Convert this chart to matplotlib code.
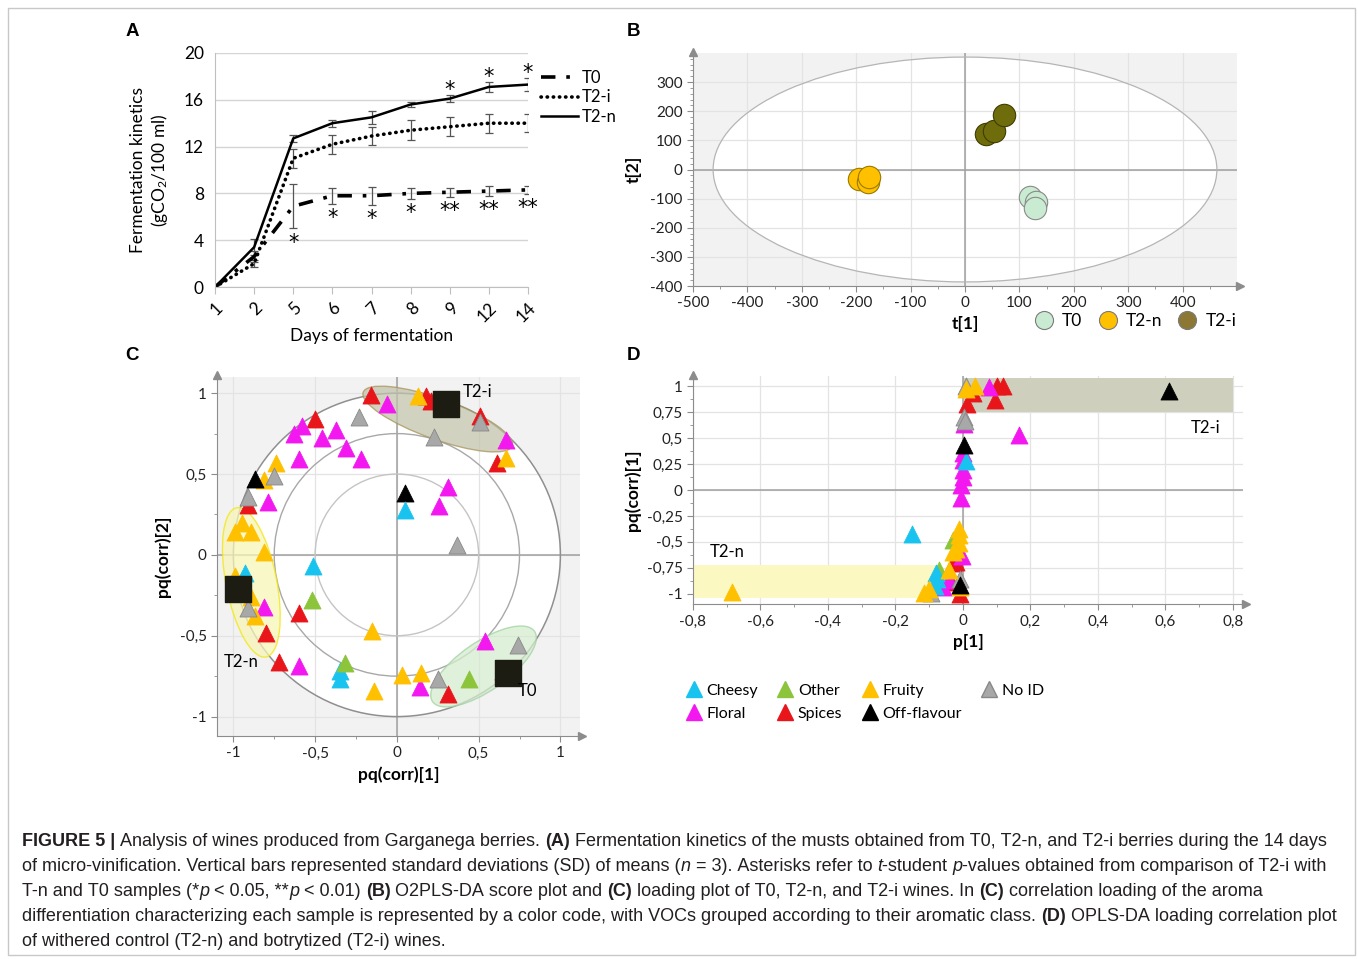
import numpy as np
import matplotlib.pyplot as plt
from matplotlib.patches import Ellipse, Circle, Rectangle
from matplotlib.lines import Line2D
from matplotlib.ticker import FuncFormatter, AutoMinorLocator

plt.rcParams['font.family'] = ['Lato', 'DejaVu Sans']
plt.rcParams['axes.unicode_minus'] = False
plt.rcParams['mathtext.fontset'] = 'custom'
plt.rcParams['mathtext.rm'] = 'Lato'
plt.rcParams['mathtext.it'] = 'Lato:italic'

# ---- panel A : fermentation kinetics ----
days = ['1', '2', '5', '6', '7', '8', '9', '12', '14']
t0 = [0, 2.6, 6.9, 7.8, 7.8, 8.0, 8.1, 8.2, 8.3]
t0_sd = [0, 0.5, 1.9, 0.7, 0.75, 0.45, 0.4, 0.45, 0.35]
t2i = [0, 2.0, 11.0, 12.2, 12.9, 13.4, 13.7, 14.0, 14.0]
t2i_sd = [0, 0.3, 0.8, 0.8, 0.8, 0.85, 0.8, 0.8, 0.75]
t2n = [0, 3.4, 12.7, 14.0, 14.5, 15.6, 16.1, 17.1, 17.3]
t2n_sd = [0, 0.7, 0.3, 0.3, 0.55, 0.25, 0.3, 0.4, 0.55]
sig_top = ['', '', '', '', '', '', '*', '*', '*']
sig_bottom = ['', '', '*', '*', '*', '*', '**', '**', '**']

# ---- panel B : score plot ----
b_t0_x = [120, 131, 129]
b_t0_y = [-94, -112, -131]
b_t2n_x = [-195, -178, -177]
b_t2n_y = [-32, -43, -25]
b_t2i_x = [39, 54, 71]
b_t2i_y = [122, 133, 186]

# ---- panel C : loading plot, by aromatic class ----
c_spices_x = [-0.16, -0.50, 0.18, 0.21, 0.25, 0.51, 0.61, -0.91, -0.60, -0.80, -0.72, 0.31, 0.65]
c_spices_y = [0.99, 0.84, 0.98, 0.95, 0.96, 0.86, 0.57, 0.31, -0.36, -0.48, -0.66, -0.86, -0.72]
c_floral_x = [-0.06, -0.58, -0.63, -0.46, -0.37, -0.31, -0.60, -0.22, -0.79, 0.31, 0.26, 0.67,
              -0.81, -0.60, 0.54, 0.14]
c_floral_y = [0.93, 0.80, 0.75, 0.72, 0.77, 0.66, 0.59, 0.59, 0.33, 0.42, 0.30, 0.71,
              -0.32, -0.69, -0.53, -0.82]
c_fruity_x = [0.13, 0.67, -0.74, -0.81, -0.95, -0.99, -0.89, -0.81, -0.99, -0.89, -0.87,
              -0.15, 0.03, 0.15, -0.14]
c_fruity_y = [0.98, 0.60, 0.57, 0.46, 0.20, 0.14, 0.14, 0.02, -0.13, -0.26, -0.38,
              -0.47, -0.74, -0.73, -0.84]
c_noid_x = [-0.23, 0.23, 0.51, -0.75, -0.91, 0.37, -0.91, 0.25, 0.74]
c_noid_y = [0.85, 0.73, 0.82, 0.49, 0.36, 0.06, -0.33, -0.77, -0.56]
c_off_x = [-0.87, 0.05]
c_off_y = [0.47, 0.38]
c_cheesy_x = [0.05, -0.93, -0.51, -0.35, -0.35]
c_cheesy_y = [0.28, -0.11, -0.07, -0.72, -0.77]
c_other_x = [-0.52, -0.32, 0.44]
c_other_y = [-0.28, -0.67, -0.77]
c_group = ['T2-i', 'T2-n', 'T0']
c_group_x = [0.30, -0.97, 0.68]
c_group_y = [0.93, -0.21, -0.73]

# ---- panel D : OPLS-DA loading correlation ----
d_spices_x = [0.03, 0.012, 0.10, 0.12, 0.096, -0.02, -0.028, -0.036, -0.008]
d_spices_y = [0.94, 0.83, 1.0, 1.0, 0.87, -0.69, -0.70, -0.89, -1.0]
d_floral_x = [0.078, 0.165, 0.003, 0.0, 0.0, 0.0, 0.0, -0.005, -0.005, -0.004, -0.04, -0.06]
d_floral_y = [0.99, 0.53, 0.64, 0.36, 0.29, 0.19, 0.13, 0.05, -0.08, -0.64, -0.87, -0.94]
d_fruity_x = [0.01, 0.036, -0.012, -0.012, -0.012, -0.02, -0.028, -0.04, -0.10, -0.114,
              -0.008, -0.683]
d_fruity_y = [0.97, 1.0, -0.38, -0.43, -0.51, -0.57, -0.60, -0.77, -0.96, -0.99,
              -0.94, -0.98]
d_noid_x = [0.01, 0.003, 0.005, -0.096, -0.008]
d_noid_y = [1.0, 0.70, 0.67, -0.99, -0.86]
d_off_x = [0.61, 0.003, -0.008]
d_off_y = [0.96, 0.43, -0.92]
d_cheesy_x = [0.01, -0.15, -0.08, -0.078, -0.084]
d_cheesy_y = [0.28, -0.42, -0.80, -0.86, -0.93]
d_other_x = [-0.03, -0.072]
d_other_y = [-0.48, -0.77]

classes = ['Cheesy', 'Floral', 'Other', 'Spices', 'Fruity', 'Off-flavour', 'No ID']
class_colors = {'Cheesy': '#19c3ef', 'Floral': '#f318f0', 'Other': '#8cc43c',
                'Spices': '#e8151b', 'Fruity': '#ffc000', 'Off-flavour': '#000000',
                'No ID': '#a8a8a8'}

W, H = 1358, 959
fig = plt.figure(figsize=(W / 100, H / 100), dpi=100)


def frac(left, top, right, bottom):
    return [left / W, 1 - bottom / H, (right - left) / W, (bottom - top) / H]


def comma(v, pos):
    s = f'{round(v, 2):g}'
    return '0' if s in ('-0', '0') else s.replace('.', ',')


def arrows(ax):
    ax.plot([1.005], [0], marker='>', ms=6, color='#8c8c8c', transform=ax.transAxes, clip_on=False)
    ax.plot([0], [1.005], marker='^', ms=6, color='#8c8c8c', transform=ax.transAxes, clip_on=False)


def simca_axes(ax):
    for s in ['top', 'right']:
        ax.spines[s].set_visible(False)
    for s in ['left', 'bottom']:
        ax.spines[s].set_color('#8c8c8c')
    ax.tick_params(which='both', color='#8c8c8c', labelsize=11, labelcolor='#222222')
    ax.tick_params(which='major', length=4)
    ax.tick_params(which='minor', length=2)
    ax.grid(True, color='#e3e3e3', lw=0.9)
    ax.set_axisbelow(True)
    ax.axhline(0, color='#a0a0a0', lw=1.1, zorder=1.5)
    ax.axvline(0, color='#a0a0a0', lw=1.1, zorder=1.5)
    arrows(ax)


# ================= A =================
axA = fig.add_axes(frac(215, 53, 528, 287))
x = np.arange(len(days))
axA.errorbar(x, t0, yerr=t0_sd, color='black', lw=2.6, ls=(0, (4, 3, 1, 3)),
             ecolor='#555555', elinewidth=0.9, capsize=3, capthick=0.9, label='T0')
axA.errorbar(x, t2i, yerr=t2i_sd, color='black', lw=2.6, ls=(0, (0.1, 1.6)),
             dash_capstyle='round', ecolor='#555555', elinewidth=0.9, capsize=3,
             capthick=0.9, label='T2-i')
axA.errorbar(x, t2n, yerr=t2n_sd, color='black', lw=1.8, ls='-',
             ecolor='#555555', elinewidth=0.9, capsize=3, capthick=0.9, label='T2-n')
for i in range(len(days)):
    if sig_top[i]:
        axA.text(x[i], t2n[i] + t2n_sd[i] - 0.4, sig_top[i], ha='center', va='bottom',
                 fontsize=15, family='DejaVu Sans')
    if sig_bottom[i]:
        axA.text(x[i], t0[i] - t0_sd[i] - 0.35, sig_bottom[i], ha='center', va='top',
                 fontsize=15, family='DejaVu Sans')
axA.set_xlim(0, len(days) - 1)
axA.set_ylim(0, 20)
axA.set_yticks([0, 4, 8, 12, 16, 20])
axA.set_xticks(x)
axA.set_xticklabels(days, rotation=45, ha='right', rotation_mode='anchor')
axA.grid(axis='y', color='#d4d4d4', lw=1)
axA.set_axisbelow(True)
for s in ['top', 'right']:
    axA.spines[s].set_visible(False)
axA.spines['left'].set_color('#bfbfbf')
axA.spines['bottom'].set_color('#bfbfbf')
axA.tick_params(axis='y', length=0, labelsize=12.5, pad=8)
axA.tick_params(axis='x', length=5, color='#bfbfbf', labelsize=12.5, pad=4)
axA.set_xlabel('Days of fermentation', fontsize=12.5, labelpad=2)
axA.set_ylabel('Fermentation kinetics\n(gCO$_2$/100 ml)', fontsize=12.5, labelpad=10)
hA, lA = axA.get_legend_handles_labels()
axA.legend([h[0] for h in hA], lA, loc='upper left', bbox_to_anchor=(1.01, 0.97),
           frameon=False, fontsize=12, handlelength=2.2, handletextpad=0.25,
           labelspacing=0.2, borderaxespad=0.2)

# ================= B =================
axB = fig.add_axes(frac(693, 53, 1237, 286))
axB.set_facecolor('#f2f2f2')
axB.add_patch(Ellipse((0, 0), 926, 772, facecolor='white', edgecolor='none', zorder=0.1))
axB.add_patch(Ellipse((0, 0), 926, 772, facecolor='none', edgecolor='#b5b5b5', lw=0.9, zorder=1.6))
simca_axes(axB)
axB.scatter(b_t0_x, b_t0_y, s=260, color='#c9ebd2', edgecolor='#8a8a8a', lw=0.8, zorder=3)
axB.scatter(b_t2n_x, b_t2n_y, s=260, color='#ffc000', edgecolor='#9a7a00', lw=0.8, zorder=3)
axB.scatter(b_t2i_x, b_t2i_y, s=260, color='#6f6c0c', edgecolor='#3f3d00', lw=0.8, zorder=3)
axB.set_xlim(-500, 500)
axB.set_ylim(-400, 400)
axB.set_xticks(np.arange(-500, 401, 100))
axB.set_yticks(np.arange(-400, 301, 100))
axB.xaxis.set_minor_locator(AutoMinorLocator(2))
axB.yaxis.set_minor_locator(AutoMinorLocator(5))
axB.grid(True, which='major', color='#e3e3e3', lw=0.9)
axB.set_xlabel('t[1]', fontsize=12.5, fontweight='bold', labelpad=4)
axB.set_ylabel('t[2]', fontsize=12.5, fontweight='bold', labelpad=6)
hB = [Line2D([], [], ls='none', marker='o', ms=13, mfc=c, mec='#7a7a7a', mew=0.8)
      for c in ['#c9ebd2', '#ffc000', '#8c7834']]
axB.legend(hB, ['T0', 'T2-n', 'T2-i'], ncol=3, loc='upper right',
           bbox_to_anchor=(1.012, -0.085), frameon=False, fontsize=12.5,
           handletextpad=0.05, columnspacing=0.45, borderaxespad=0)

# ================= C =================
axC = fig.add_axes(frac(217, 377, 580, 736))
axC.set_facecolor('#f2f2f2')
axC.add_patch(Circle((0, 0), 1, facecolor='white', edgecolor='none', zorder=0.1))
simca_axes(axC)
axC.add_patch(Circle((0, 0), 1, facecolor='none', edgecolor='#8f8f8f', lw=1.1, zorder=1.6))
axC.add_patch(Circle((0, 0), 0.75, facecolor='none', edgecolor='#a8a8a8', lw=1, zorder=1.6))
axC.add_patch(Circle((0, 0), 0.5, facecolor='none', edgecolor='#c4c4c4', lw=1, zorder=1.6))
axC.add_patch(Ellipse((0.25, 0.84), 0.97, 0.25, angle=-20, facecolor='#c3c3ad', alpha=0.75,
                      edgecolor='#a8955a', lw=1, zorder=1.7))
axC.add_patch(Ellipse((-0.89, -0.17), 0.94, 0.31, angle=101, facecolor='#f8f6b8', alpha=0.75,
                      edgecolor='#f2e60a', lw=1, zorder=1.7))
axC.add_patch(Ellipse((0.53, -0.69), 0.76, 0.30, angle=35, facecolor='#d5ebcf', alpha=0.75,
                      edgecolor='#9fd39f', lw=1, zorder=1.7))
c_sets = {'Spices': (c_spices_x, c_spices_y), 'Floral': (c_floral_x, c_floral_y),
          'Fruity': (c_fruity_x, c_fruity_y), 'No ID': (c_noid_x, c_noid_y),
          'Off-flavour': (c_off_x, c_off_y), 'Cheesy': (c_cheesy_x, c_cheesy_y),
          'Other': (c_other_x, c_other_y)}
for name, (xs, ys) in c_sets.items():
    ec = '#888888' if name == 'No ID' else class_colors[name]
    axC.scatter(xs, ys, marker='^', s=150, color=class_colors[name], edgecolor=ec, lw=0.6, zorder=3)
axC.scatter(c_group_x, c_group_y, marker='s', s=330, color='#1c1c12', zorder=4)
offsets = {'T2-i': (0.10, 0.08, 'left'), 'T2-n': (-0.09, -0.45, 'left'), 'T0': (0.06, -0.11, 'left')}
for g, gx, gy in zip(c_group, c_group_x, c_group_y):
    dx, dy, ha = offsets[g]
    axC.text(gx + dx, gy + dy, g, fontsize=12, ha=ha, va='center', zorder=5)
axC.set_xlim(-1.1, 1.12)
axC.set_ylim(-1.12, 1.1)
axC.set_xticks([-1, -0.5, 0, 0.5, 1])
axC.set_yticks([-1, -0.5, 0, 0.5, 1])
axC.xaxis.set_minor_locator(AutoMinorLocator(2))
axC.yaxis.set_minor_locator(AutoMinorLocator(2))
axC.xaxis.set_major_formatter(FuncFormatter(comma))
axC.yaxis.set_major_formatter(FuncFormatter(comma))
axC.set_xlabel('pq(corr)[1]', fontsize=12.5, fontweight='bold', labelpad=4)
axC.set_ylabel('pq(corr)[2]', fontsize=12.5, fontweight='bold', labelpad=6)

# ================= D =================
axD = fig.add_axes(frac(693, 376, 1243, 604))
simca_axes(axD)
axD.add_patch(Rectangle((0, 0.75), 0.8, 0.33, facecolor='#cfcfbd', edgecolor='none', zorder=1))
axD.add_patch(Rectangle((-0.8, -1.04), 0.73, 0.32, facecolor='#fbf8c2', edgecolor='none', zorder=1))
d_sets = {'Spices': (d_spices_x, d_spices_y), 'Floral': (d_floral_x, d_floral_y),
          'Other': (d_other_x, d_other_y), 'Cheesy': (d_cheesy_x, d_cheesy_y),
          'No ID': (d_noid_x, d_noid_y), 'Fruity': (d_fruity_x, d_fruity_y),
          'Off-flavour': (d_off_x, d_off_y)}
for name, (xs, ys) in d_sets.items():
    ec = '#888888' if name == 'No ID' else class_colors[name]
    axD.scatter(xs, ys, marker='^', s=150, color=class_colors[name], edgecolor=ec, lw=0.6, zorder=3)
axD.text(0.675, 0.6, 'T2-i', fontsize=12, va='center')
axD.text(-0.75, -0.6, 'T2-n', fontsize=12, va='center')
axD.set_xlim(-0.8, 0.83)
axD.set_ylim(-1.1, 1.1)
axD.set_xticks(np.arange(-0.8, 0.81, 0.2))
axD.set_yticks(np.arange(-1, 1.01, 0.25))
axD.xaxis.set_minor_locator(AutoMinorLocator(2))
axD.yaxis.set_minor_locator(AutoMinorLocator(2))
axD.xaxis.set_major_formatter(FuncFormatter(comma))
axD.yaxis.set_major_formatter(FuncFormatter(comma))
axD.set_xlabel('p[1]', fontsize=12.5, fontweight='bold', labelpad=4)
axD.set_ylabel('pq(corr)[1]', fontsize=12.5, fontweight='bold', labelpad=4)

# class legend under D
hC = [Line2D([], [], ls='none', marker='^', ms=12, mfc=class_colors[c],
             mec='#888888' if c == 'No ID' else class_colors[c]) for c in classes]
fig.legend(hC, classes, ncol=4, loc='upper left', bbox_to_anchor=(668 / W, 1 - 669 / H),
           frameon=False, fontsize=11.5, handletextpad=0.1, columnspacing=1.0,
           labelspacing=0.55, handlelength=1.4)

# panel letters
for lab, px, py in [('A', 132, 32), ('B', 633, 32), ('C', 132, 356), ('D', 633, 356)]:
    fig.text(px / W, 1 - py / H, lab, fontsize=13.5, fontweight='bold', ha='center',
             va='center', family='Liberation Sans')

# frame
fig.add_artist(Rectangle((8 / W, 4 / H), 1347 / W, 947 / H, transform=fig.transFigure,
                         facecolor='none', edgecolor='#c8c8c8', lw=1))

# caption
caption = [
    [('FIGURE 5 | ', 'bold', 'normal'), ('Analysis of wines produced from Garganega berries. ', 'normal', 'normal'),
     ('(A)', 'bold', 'normal'),
     (' Fermentation kinetics of the musts obtained from T0, T2-n, and T2-i berries during the 14 days', 'normal', 'normal')],
    [('of micro-vinification. Vertical bars represented standard deviations (SD) of means (', 'normal', 'normal'),
     ('n', 'normal', 'italic'), (' = 3). Asterisks refer to ', 'normal', 'normal'), ('t', 'normal', 'italic'),
     ('-student ', 'normal', 'normal'), ('p', 'normal', 'italic'),
     ('-values obtained from comparison of T2-i with', 'normal', 'normal')],
    [('T-n and T0 samples (*', 'normal', 'normal'), ('p', 'normal', 'italic'), (' < 0.05, **', 'normal', 'normal'),
     ('p', 'normal', 'italic'), (' < 0.01) ', 'normal', 'normal'), ('(B)', 'bold', 'normal'),
     (' O2PLS-DA score plot and ', 'normal', 'normal'), ('(C)', 'bold', 'normal'),
     (' loading plot of T0, T2-n, and T2-i wines. In ', 'normal', 'normal'), ('(C)', 'bold', 'normal'),
     (' correlation loading of the aroma', 'normal', 'normal')],
    [('differentiation characterizing each sample is represented by a color code, with VOCs grouped according to their aromatic class. ', 'normal', 'normal'),
     ('(D)', 'bold', 'normal'), (' OPLS-DA loading correlation plot', 'normal', 'normal')],
    [('of withered control (T2-n) and botrytized (T2-i) wines.', 'normal', 'normal')],
]
renderer = fig.canvas.get_renderer()
for k, parts in enumerate(caption):
    xpos = 22 / W
    ypos = 1 - (846 + 25 * k) / H
    for txt, wt, st in parts:
        t = fig.text(xpos, ypos, txt.replace(' ', '\u00a0'), fontsize=13.0, fontweight=wt, fontstyle=st,
                     family='Liberation Sans', color='#231f20', va='baseline')
        xpos += t.get_window_extent(renderer=renderer).width / W

fig.savefig('out.png', dpi=100)
